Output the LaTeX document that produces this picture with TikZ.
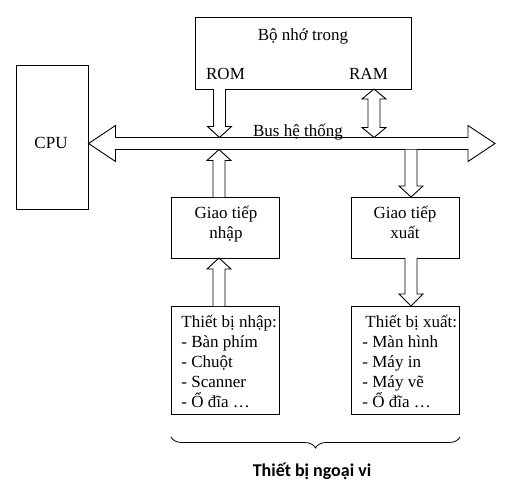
\documentclass[tikz,border=0pt]{standalone}
\usepackage{fontspec}
\setmainfont{Liberation Serif}
\newfontfamily\calibfont{Carlito}
\usetikzlibrary{calc,decorations.pathreplacing}
% vertical block arrow: #1 start (shaft end), #2 tip, #3 = 1 (pointing down) or -1 (pointing up), #4 head length
\newcommand\vblockarrow[4]{%
  \draw[blk] let \p1=(#1), \p2=(#2) in
    ({\x1-6pt},\y1) -- ({\x1-6pt},{\y2+#3*#4}) -- ({\x1-12pt},{\y2+#3*#4}) -- (\x1,\y2)
    -- ({\x1+12pt},{\y2+#3*#4}) -- ({\x1+6pt},{\y2+#3*#4}) -- ({\x1+6pt},\y1);}
% vertical double block arrow: #1 top tip, #2 bottom tip, #3 head length
\newcommand\vdblockarrow[3]{%
  \draw[blk] let \p1=(#1), \p2=(#2) in
    (\x1,\y1) -- ({\x1+12pt},{\y1-#3}) -- ({\x1+6pt},{\y1-#3}) -- ({\x1+6pt},{\y2+#3})
    -- ({\x1+12pt},{\y2+#3}) -- (\x2,\y2) -- ({\x1-12pt},{\y2+#3}) -- ({\x1-6pt},{\y2+#3})
    -- ({\x1-6pt},{\y1-#3}) -- ({\x1-12pt},{\y1-#3}) -- cycle;}
\begin{document}
\begin{tikzpicture}[x=1pt,y=-1pt,line width=0.9pt,
  box/.style={draw,rectangle,inner sep=0pt},
  txt/.style={inner sep=0pt,font=\fontsize{17}{20}\selectfont},
  blk/.style={draw,fill=white,line join=miter}]
\useasboundingbox[fill=white] (0,0) rectangle (514,485);
% boxes
\node[box,minimum width=216pt,minimum height=72pt] (mem) at (303,53) {};
\node[box,minimum width=72pt,minimum height=144pt] (cpu) at (52,137) {};
\node[box,minimum width=108pt,minimum height=61pt] (gin) at (225,227.5) {};
\node[box,minimum width=108pt,minimum height=61pt] (gout) at (405,227.5) {};
\node[box,minimum width=108pt,minimum height=108pt] (din) at (225,360) {};
\node[box,minimum width=108pt,minimum height=108pt] (dout) at (405,360) {};
% texts
\node[txt,anchor=base] (memt) at (303,40) {Bộ nhớ trong};
\node[txt,anchor=base] (rom) at (225.5,79) {ROM};
\node[txt,anchor=base] (ram) at (368.5,79) {RAM};
\node[txt,anchor=base] (cput) at (51,148) {CPU};
\node[txt,anchor=base,align=center] (gint) at (226,238) {Giao tiếp\\nhập};
\node[txt,anchor=base,align=center] (goutt) at (405,238) {Giao tiếp\\xuất};
\node[txt,anchor=base west,align=left] (dint) at (181,407) {Thiết bị nhập:\\- Bàn phím\\- Chuột\\- Scanner\\- Ổ đĩa …};
\node[txt,anchor=base west,align=left] (doutt) at (362,407) {\hspace{3pt}Thiết bị xuất:\\- Màn hình\\- Máy in\\- Máy vẽ\\- Ổ đĩa …};
% bus
\coordinate (busR) at (495,143.5);
\path (cpu.east |- busR) coordinate (busL);
\draw[blk] let \p1=(busL), \p2=(busR) in
  (\x1,\y1) -- ({\x1+27pt},{\y1+18pt}) -- ({\x1+27pt},{\y1+6pt}) -- ({\x2-27pt},{\y1+6pt})
  -- ({\x2-27pt},{\y1+18pt}) -- (\x2,\y2) -- ({\x2-27pt},{\y1-18pt}) -- ({\x2-27pt},{\y1-6pt})
  -- ({\x1+27pt},{\y1-6pt}) -- ({\x1+27pt},{\y1-18pt}) -- cycle;
\node[txt,anchor=base] (bust) at (298,136) {Bus hệ thống};
% arrow ends
\coordinate (romA) at (219.5,89);
\coordinate (romB) at (219.5,137.5);
\coordinate (ramA) at (374,89);
\coordinate (ramB) at (374,137.5);
\coordinate (inA) at (219,197);
\coordinate (inB) at (219,149.5);
\coordinate (outA) at (411,149.5);
\coordinate (outB) at (411,197);
\coordinate (in2A) at (219,306);
\coordinate (in2B) at (219,258);
\coordinate (out2A) at (411,258);
\coordinate (out2B) at (411,306);
\vblockarrow{romA}{romB}{1}{11pt}
\vdblockarrow{ramA}{ramB}{10pt}
\vblockarrow{inA}{inB}{-1}{11pt}
\vblockarrow{outA}{outB}{1}{11pt}
\vblockarrow{in2A}{in2B}{-1}{11pt}
\vblockarrow{out2A}{out2B}{1}{12pt}
% brace
\draw[line width=0.8pt,decorate,decoration={brace,amplitude=11pt,mirror}] (171,437) -- (460,437);
\node[inner sep=0pt,anchor=base,font=\calibfont\bfseries\fontsize{18}{21}\selectfont] (pv) at (312,476) {Thiết bị ngoại vi};
\end{tikzpicture}
\end{document}
